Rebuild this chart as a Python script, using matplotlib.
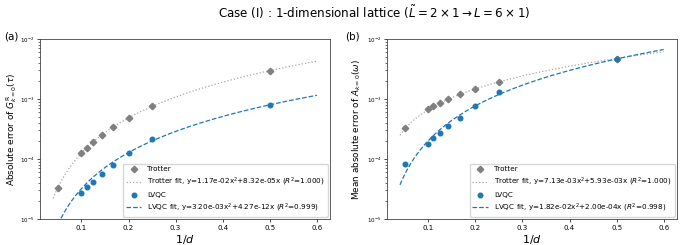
import numpy as np
import matplotlib
matplotlib.use("Agg")
import matplotlib.pyplot as plt

# data
inv_d = [0.05, 0.1, 1/9, 0.125, 1/7, 1/6, 0.2, 0.25, 0.5]
a_trotter = [3.35e-5, 1.25e-4, 1.54e-4, 1.93e-4, 2.50e-4, 3.40e-4, 4.85e-4, 7.5e-4, 2.95e-3]
inv_d_lvqc_a = [0.1, 1/9, 0.125, 1/7, 1/6, 0.2, 0.25, 0.5]
a_lvqc = [2.75e-5, 3.45e-5, 4.2e-5, 5.6e-5, 7.9e-5, 1.26e-4, 2.15e-4, 7.9e-4]
b_trotter = [3.3e-4, 6.8e-4, 7.6e-4, 8.7e-4, 1.0e-3, 1.2e-3, 1.47e-3, 1.9e-3, 4.7e-3]
b_lvqc = [8.1e-5, 1.8e-4, 2.2e-4, 2.7e-4, 3.5e-4, 4.9e-4, 7.6e-4, 1.32e-3, 4.65e-3]

# fit coefficients (a x^2 + b x) and R^2
a_trotter_fit = (1.17e-2, 8.32e-5, 1.000)
a_lvqc_fit = (3.20e-3, 4.27e-12, 0.999)
b_trotter_fit = (7.13e-3, 5.93e-3, 1.000)
b_lvqc_fit = (1.82e-2, 2.00e-4, 0.998)
fit_range = (0.04, 0.6)

fig = plt.figure(figsize=(6.81, 2.45), dpi=100)
ax1 = fig.add_axes([0.0587, 0.106, 0.426, 0.735])
ax2 = fig.add_axes([0.568, 0.106, 0.426, 0.735])

xs = np.linspace(fit_range[0], fit_range[1], 200)

def fmt(c):
    return f"{c:.2e}"

def panel(ax, xt, yt, xl, yl, tf, lf, ylabel, ylx):
    ax.plot(xt, yt, 'D', color='gray', markersize=3.3, label='Trotter', zorder=3)
    ax.plot(xs, tf[0]*xs**2 + tf[1]*xs, ':', color='gray', alpha=0.7, lw=0.9,
            label=f"Trotter fit, y={fmt(tf[0])}x$^2$+{fmt(tf[1])}x ($R^2$={tf[2]:.3f})")
    ax.plot(xl, yl, 'o', color='tab:blue', markersize=3.3, label='LVQC', zorder=3)
    ax.plot(xs, lf[0]*xs**2 + lf[1]*xs, '--', color='tab:blue', lw=0.9,
            label=f"LVQC fit, y={fmt(lf[0])}x$^2$+{fmt(lf[1])}x ($R^2$={lf[2]:.3f})")
    ax.set_yscale('log')
    ax.set_ylim(1e-5, 1e-2)
    ax.set_xticks([0.1, 0.2, 0.3, 0.4, 0.5, 0.6])
    ax.tick_params(axis='x', which='major', labelsize=5, length=2.5, width=0.5, pad=2)
    ax.tick_params(axis='y', which='major', labelsize=4, length=2.5, width=0.5, pad=1.5)
    ax.tick_params(axis='both', which='minor', length=1.5, width=0.4)
    for s in ax.spines.values():
        s.set_linewidth(0.6)
        s.set_color('#444444')
    ax.set_xlabel('$1/d$', fontsize=8, labelpad=1)
    ax.set_ylabel(ylabel, fontsize=6.4)
    ax.yaxis.set_label_coords(ylx, 0.5)
    ax.legend(loc='lower right', fontsize=5.2, handlelength=2.2, borderpad=0.4,
              labelspacing=0.5, framealpha=0.8, borderaxespad=0.3)

panel(ax1, inv_d, a_trotter, inv_d_lvqc_a, a_lvqc, a_trotter_fit, a_lvqc_fit,
      r'Absolute error of $G^{\rm R}_{k=0}(\tau)$', -0.074)
panel(ax2, inv_d, b_trotter, inv_d, b_lvqc, b_trotter_fit, b_lvqc_fit,
      r'Mean absolute error of $A_{k=0}(\omega)$', -0.082)

fig.text(0.549, 0.951, r'Case (I) : 1-dimensional lattice ($\tilde{L}=2\times1 \rightarrow L=6\times1$)',
         ha='center', va='center', fontsize=8.6)
fig.text(0.006, 0.853, '(a)', fontsize=7.5, va='center')
fig.text(0.507, 0.853, '(b)', fontsize=7.5, va='center')

fig.savefig('out.png', dpi=100)
